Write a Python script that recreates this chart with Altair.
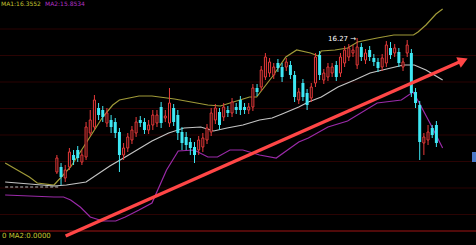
import altair as alt
import pandas as pd

# ---- candle data (bar index, prices) ----
opens = [14.93, 14.98, 14.87, 14.98, 15.10, 15.15, 15.03, 15.08, 15.32, 15.38,
         15.57, 15.55, 15.42, 15.45, 15.43, 15.33, 15.10, 15.17, 15.25, 15.32,
         15.45, 15.43, 15.35, 15.40, 15.42, 15.58, 15.47, 15.42, 15.57, 15.50,
         15.33, 15.28, 15.23, 15.18, 15.15, 15.18, 15.25, 15.33, 15.45, 15.53,
         15.48, 15.55, 15.52, 15.58, 15.65, 15.58, 15.55, 15.58, 15.77, 15.78,
         15.88, 15.92, 15.90, 16.02, 15.98, 15.98, 16.00, 15.90, 15.65, 15.82,
         15.72, 15.67, 15.82, 16.10, 15.85, 15.88, 15.92, 16.00, 15.92, 16.02,
         16.08, 16.12, 16.00, 16.18, 16.05, 16.15, 16.07, 16.03, 15.98, 16.02,
         16.17, 16.12, 16.13, 15.98, 16.12, 16.12, 15.73, 15.60, 15.22, 15.25,
         15.37, 15.40]
closes = [15.07, 14.88, 14.95, 15.13, 15.05, 15.07, 15.10, 15.38, 15.45, 15.65,
          15.50, 15.48, 15.52, 15.38, 15.32, 15.10, 15.17, 15.28, 15.35, 15.43,
          15.42, 15.35, 15.40, 15.50, 15.50, 15.42, 15.49, 15.62, 15.43, 15.32,
          15.22, 15.20, 15.17, 15.10, 15.25, 15.27, 15.37, 15.52, 15.57, 15.40,
          15.58, 15.52, 15.63, 15.55, 15.55, 15.55, 15.58, 15.77, 15.73, 15.95,
          16.08, 16.03, 15.98, 15.97, 15.88, 16.03, 15.90, 15.68, 15.73, 15.68,
          15.60, 15.78, 16.08, 15.90, 15.92, 15.98, 15.98, 15.88, 16.08, 16.15,
          16.17, 16.15, 16.18, 16.08, 16.12, 16.08, 16.03, 15.97, 16.07, 16.20,
          16.10, 16.17, 16.02, 16.03, 16.20, 15.72, 15.62, 15.23, 15.28, 15.33,
          15.30, 15.22]
highs = [15.10, 15.02, 15.00, 15.17, 15.15, 15.19, 15.15, 15.43, 15.55, 15.70,
         15.62, 15.59, 15.57, 15.50, 15.47, 15.37, 15.22, 15.32, 15.39, 15.48,
         15.49, 15.47, 15.45, 15.55, 15.55, 15.63, 15.55, 15.77, 15.61, 15.55,
         15.38, 15.33, 15.27, 15.23, 15.29, 15.32, 15.41, 15.57, 15.61, 15.57,
         15.62, 15.59, 15.67, 15.62, 15.69, 15.62, 15.62, 15.81, 15.81, 15.99,
         16.12, 16.07, 16.02, 16.06, 16.02, 16.07, 16.04, 15.94, 15.77, 15.86,
         15.76, 15.82, 16.12, 16.14, 15.96, 16.02, 16.02, 16.04, 16.12, 16.19,
         16.21, 16.20, 16.27, 16.22, 16.16, 16.19, 16.11, 16.07, 16.11, 16.24,
         16.23, 16.21, 16.17, 16.07, 16.25, 16.16, 15.77, 15.64, 15.32, 15.40,
         15.40, 15.44]
lows = [14.91, 14.80, 14.83, 14.95, 15.00, 15.03, 15.00, 15.05, 15.29, 15.35,
        15.45, 15.43, 15.38, 15.32, 15.27, 14.93, 15.05, 15.13, 15.21, 15.28,
        15.38, 15.31, 15.31, 15.35, 15.38, 15.37, 15.43, 15.38, 15.39, 15.25,
        15.15, 15.15, 15.10, 15.02, 15.10, 15.13, 15.21, 15.29, 15.41, 15.35,
        15.44, 15.48, 15.48, 15.51, 15.50, 15.51, 15.51, 15.54, 15.69, 15.74,
        15.85, 15.88, 15.86, 15.93, 15.83, 15.94, 15.86, 15.63, 15.61, 15.64,
        15.55, 15.63, 15.78, 15.85, 15.81, 15.84, 15.88, 15.84, 15.88, 15.98,
        16.04, 16.08, 15.96, 16.04, 16.01, 16.04, 15.99, 15.93, 15.94, 15.98,
        16.06, 16.08, 15.98, 15.94, 16.08, 15.68, 15.57, 15.05, 15.10, 15.20,
        15.27, 15.18]

# ---- Bollinger-style bands (bar index, price) ----
upper_x = [-12.4, -6.6, -4.7, -0.7, 3.3, 7.0, 11.0, 13.4, 15.0, 19.7, 22.8, 28.2,
           36.2, 39.2, 42.3, 46.2, 47.9, 51.6, 54.9, 57.5, 60.8, 62.7, 63.4, 66.7,
           69.7, 72.1, 76.8, 80.8, 85.5, 86.6, 88.5, 90.9, 92.5]
upper_y = [15.02, 14.88, 14.82, 14.80, 14.98, 15.22, 15.48, 15.60, 15.65, 15.69,
           15.69, 15.66, 15.60, 15.59, 15.63, 15.68, 15.68, 15.88, 16.08, 16.15,
           16.12, 16.09, 16.14, 16.15, 16.17, 16.23, 16.27, 16.30, 16.30, 16.33,
           16.40, 16.51, 16.56]
mid_x = [-12.4, -0.7, 2.3, 7.0, 12.7, 16.4, 22.8, 26.8, 30.5, 34.5, 37.6, 40.8,
         44.6, 48.6, 51.6, 54.0, 58.0, 60.3, 63.4, 67.4, 71.4, 75.1, 79.1, 83.1,
         85.7, 88.5, 92.5]
mid_y = [14.83, 14.79, 14.80, 14.83, 14.99, 15.08, 15.24, 15.32, 15.37, 15.38,
         15.34, 15.37, 15.40, 15.45, 15.47, 15.51, 15.58, 15.63, 15.68, 15.78,
         15.85, 15.92, 15.96, 16.00, 16.00, 15.95, 15.85]
lower_x = [-12.4, -0.7, 1.6, 3.3, 5.6, 8.0, 11.0, 14.1, 16.4, 19.7, 22.8, 26.3,
           29.1, 32.9, 36.2, 38.5, 41.5, 44.6, 48.6, 52.6, 58.0, 60.3, 65.0, 69.7,
           76.8, 82.6, 85.4, 86.9, 89.7, 92.5]
lower_y = [14.70, 14.68, 14.68, 14.65, 14.58, 14.48, 14.44, 14.44, 14.48, 14.55,
           14.62, 14.95, 15.14, 15.15, 15.08, 15.08, 15.15, 15.15, 15.10, 15.07,
           15.23, 15.27, 15.38, 15.44, 15.62, 15.65, 15.73, 15.62, 15.40, 15.17]
dash_x = [-12.4, 0.5]
dash_y = [14.78, 14.78]

# ---- trend arrow ----
trend_x = [2.1, 96.5]
trend_y = [14.29, 16.03]
head_x = [97.4]
head_y = [16.045]

grid_prices = [16.36, 16.095, 15.83, 15.565, 15.30, 15.035, 14.77, 14.505]
base_price = [14.34]

high_label = ["16.27 →"]
top_label_1 = ["MA1:16.3552"]
top_label_2 = ["MA2:15.8534"]
bottom_label = ["0 MA2:0.0000"]

RED = "#e83a3a"
CYAN = "#3ee8f4"

xs = alt.Scale(domain=[-12.44, 99.3], nice=False, zero=False)
ys = alt.Scale(domain=[14.20, 16.65], nice=False, zero=False)

c = pd.DataFrame({"i": list(range(len(opens))), "open": opens, "close": closes,
                  "high": highs, "low": lows})
c["top"] = c[["open", "close"]].max(axis=1)
c["bot"] = c[["open", "close"]].min(axis=1)
up = c[c.close >= c.open]
dn = c[c.close < c.open]

X = alt.X("i:Q", scale=xs, axis=None)

grid = alt.Chart(pd.DataFrame({"p": grid_prices})).mark_rule(
    color="#2a0303", strokeWidth=1).encode(y=alt.Y("p:Q", scale=ys, axis=None))
base = alt.Chart(pd.DataFrame({"p": base_price})).mark_rule(
    color="#a01414", strokeWidth=1).encode(y=alt.Y("p:Q", scale=ys, axis=None))

def band(xv, yv, color, dash=None, width=1.2):
    kw = dict(color=color, strokeWidth=width)
    if dash:
        kw["strokeDash"] = dash
    return alt.Chart(pd.DataFrame({"i": xv, "p": yv})).mark_line(**kw).encode(
        x=alt.X("i:Q", scale=xs, axis=None), y=alt.Y("p:Q", scale=ys, axis=None))

upper = band(upper_x, upper_y, "#a09a38")
middle = band(mid_x, mid_y, "#c4c4c4")
lower = band(lower_x, lower_y, "#9a2aa8")
dashed = band(dash_x, dash_y, "#bbbbbb", dash=[3, 2], width=1)

wick_up = alt.Chart(up).mark_rule(color=RED, strokeWidth=1).encode(
    x=X, y=alt.Y("low:Q", scale=ys, axis=None), y2="high:Q")
wick_dn = alt.Chart(dn).mark_rule(color=CYAN, strokeWidth=1).encode(
    x=X, y=alt.Y("low:Q", scale=ys, axis=None), y2="high:Q")
body_up = alt.Chart(up).mark_bar(size=2, fill="black", stroke=RED, strokeWidth=1).encode(
    x=X, y=alt.Y("bot:Q", scale=ys, axis=None), y2="top:Q")
body_dn = alt.Chart(dn).mark_bar(size=3, color=CYAN).encode(
    x=X, y=alt.Y("bot:Q", scale=ys, axis=None), y2="top:Q")

trend = alt.Chart(pd.DataFrame({"i": trend_x, "p": trend_y})).mark_line(
    color="#ff4646", strokeWidth=3.5).encode(
    x=alt.X("i:Q", scale=xs, axis=None), y=alt.Y("p:Q", scale=ys, axis=None))
head = alt.Chart(pd.DataFrame({"i": head_x, "p": head_y})).mark_point(
    shape="triangle-up", filled=True, size=130, angle=67, color="#ff4646", opacity=1).encode(
    x=alt.X("i:Q", scale=xs, axis=None), y=alt.Y("p:Q", scale=ys, axis=None))

hi_idx = int(c.high.idxmax())
hl = alt.Chart(pd.DataFrame({"i": [hi_idx], "p": [c.high.max()], "t": high_label})).mark_text(
    align="right", baseline="middle", dx=-1, dy=1, color="white", fontSize=7,
    font="DejaVu Sans").encode(
    x=alt.X("i:Q", scale=xs, axis=None), y=alt.Y("p:Q", scale=ys, axis=None), text="t:N")

def label(txt, x, y, color, size):
    return alt.Chart(pd.DataFrame({"t": txt})).mark_text(
        align="left", baseline="middle", color=color, fontSize=size,
        font="DejaVu Sans").encode(x=alt.value(x), y=alt.value(y), text="t:N")

t1 = label(top_label_1, 1, 4, "#c0c030", 6)
t2 = label(top_label_2, 45, 4, "#b030c0", 6)
t3 = label(bottom_label, 2, 236, "#c8c832", 7)

marker = alt.Chart(pd.DataFrame({"a": [0]})).mark_rect(color="#4a78c8").encode(
    x=alt.value(472), x2=alt.value(476), y=alt.value(152), y2=alt.value(162))

chart = alt.layer(grid, base, dashed, upper, middle, lower,
                  wick_up, wick_dn, body_up, body_dn, trend, head,
                  hl, t1, t2, t3, marker).properties(
    width=476, height=245, background="black", padding=0,
    autosize=alt.AutoSizeParams(type="none")).configure_view(stroke=None, fill="black")

chart.save("out.html", embed_options={"renderer": "svg", "actions": False})
